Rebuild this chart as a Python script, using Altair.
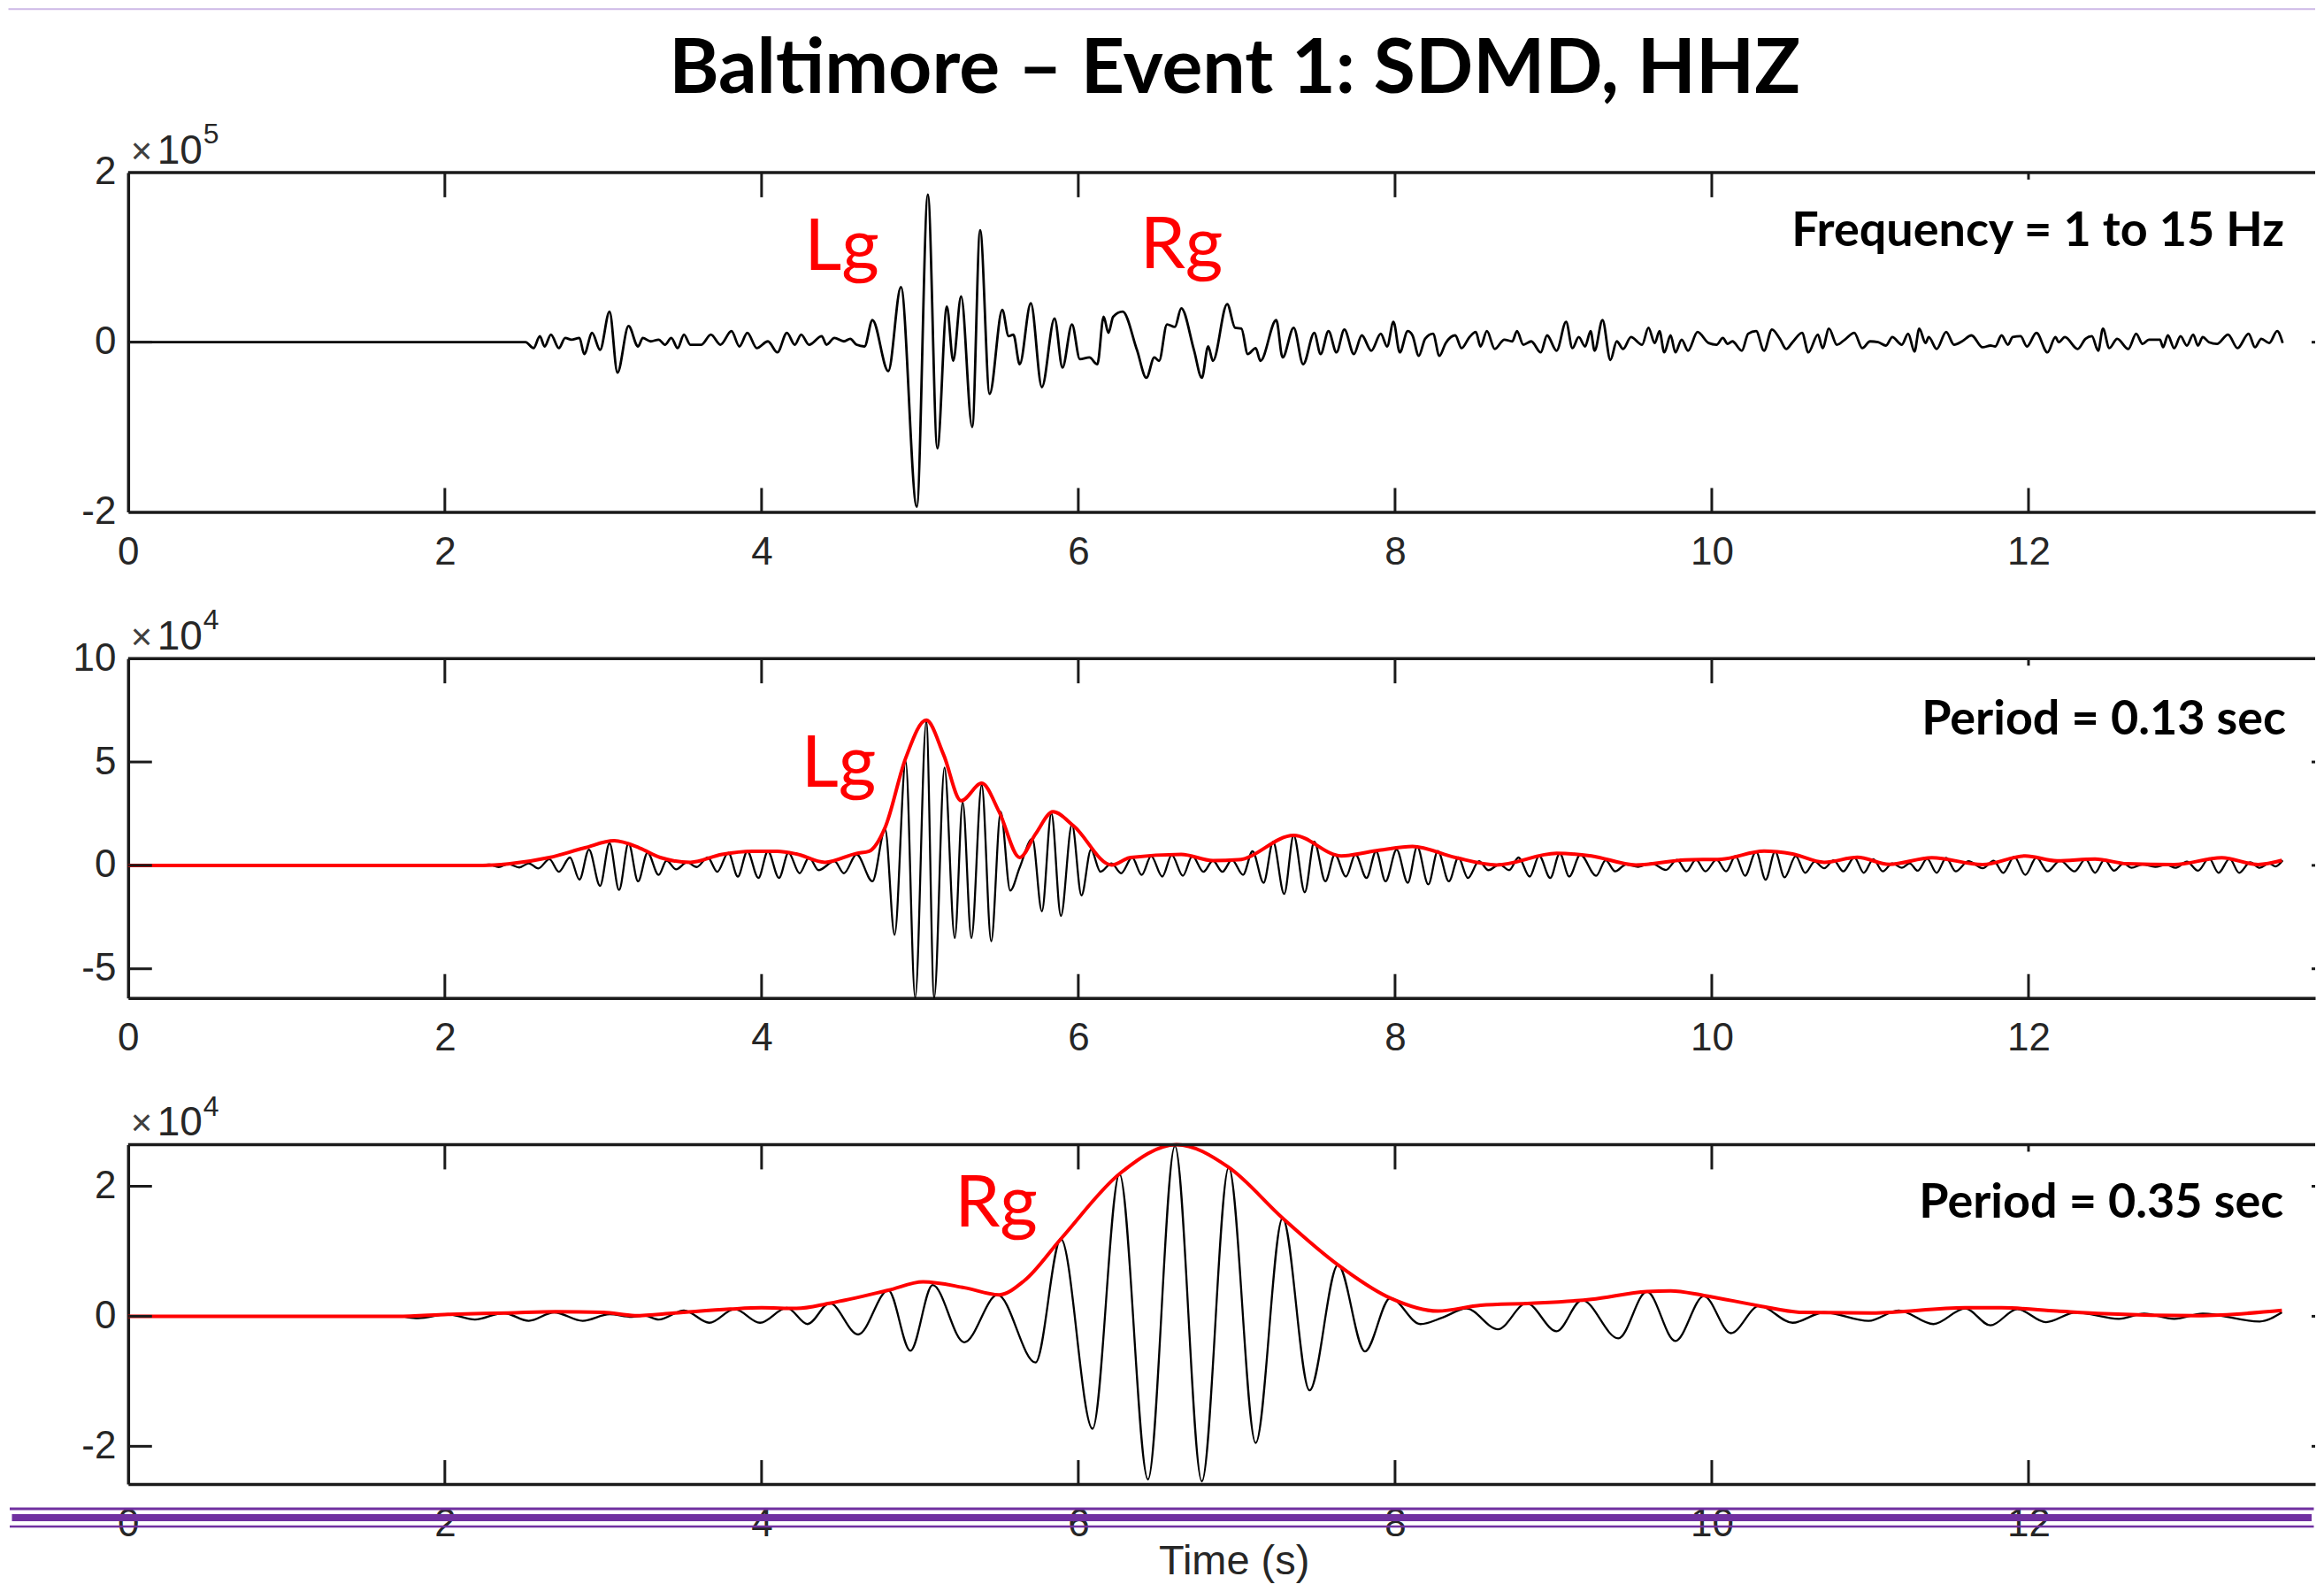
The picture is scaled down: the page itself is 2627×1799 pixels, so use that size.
import altair as alt
import pandas as pd

# ---------------- data ----------------
# time (s), amplitude (x1e5) -- broadband 1-15 Hz trace
P1 = [(0.00,0.00),(2.51,0.00),(2.56,-0.07),(2.60,0.07),(2.63,-0.05),(2.67,0.09),(2.72,-0.07),(2.76,0.05),(2.80,0.03),(2.85,0.05),(2.88,-0.14),(2.93,0.11),(2.98,-0.09),(3.04,0.36),(3.09,-0.36),(3.16,0.19),(3.22,-0.05),(3.25,0.05),(3.30,0.01),(3.35,0.03),(3.39,-0.03),(3.43,0.05),(3.47,-0.07),(3.51,0.09),(3.55,-0.03),(3.62,-0.03),(3.68,0.09),(3.74,-0.03),(3.81,0.13),(3.86,-0.05),(3.91,0.11),(3.97,-0.07),(4.04,0.01),(4.10,-0.12),(4.16,0.11),(4.21,-0.03),(4.25,0.09),(4.30,-0.03),(4.38,0.07),(4.41,-0.03),(4.46,0.05),(4.52,0.01),(4.56,0.04),(4.60,-0.03),(4.65,-0.05),(4.70,0.26),(4.80,-0.34),(4.88,0.65),(4.98,-1.94),(5.05,1.74),(5.11,-1.25),(5.17,0.42),(5.21,-0.22),(5.26,0.54),(5.33,-1.00),(5.38,1.32),(5.44,-0.61),(5.52,0.38),(5.56,0.07),(5.59,0.09),(5.63,-0.26),(5.70,0.46),(5.77,-0.53),(5.85,0.28),(5.90,-0.30),(5.96,0.21),(6.01,-0.20),(6.07,-0.18),(6.12,-0.26),(6.16,0.30),(6.19,0.11),(6.22,0.30),(6.28,0.36),(6.37,-0.09),(6.43,-0.42),(6.48,-0.18),(6.51,-0.22),(6.56,0.21),(6.61,0.18),(6.65,0.40),(6.73,-0.09),(6.78,-0.42),(6.82,-0.05),(6.85,-0.22),(6.94,0.45),(6.99,0.17),(7.03,0.16),(7.07,-0.14),(7.12,-0.07),(7.15,-0.22),(7.25,0.26),(7.29,-0.18),(7.36,0.17),(7.42,-0.26),(7.49,0.11),(7.53,-0.14),(7.58,0.13),(7.63,-0.12),(7.68,0.15),(7.74,-0.14),
      (7.79,0.08),(7.85,-0.10),(7.91,0.10),(7.95,-0.05),(7.99,0.24),(8.03,-0.12),(8.08,0.13),(8.11,0.08),(8.15,-0.16),(8.19,0.04),(8.24,0.10),(8.28,-0.16),(8.32,-0.01),(8.38,0.08),(8.42,-0.07),(8.47,0.06),(8.51,0.12),(8.54,-0.05),(8.58,0.13),(8.63,-0.08),(8.69,0.03),(8.74,0.01),(8.77,0.13),(8.81,-0.03),(8.86,0.01),(8.92,-0.12),(8.96,0.08),(9.02,-0.10),(9.08,0.24),(9.12,-0.07),(9.16,0.06),(9.20,-0.05),(9.235,0.13),(9.26,-0.10),(9.31,0.26),(9.36,-0.21),(9.40,0.01),(9.44,-0.08),(9.49,0.06),(9.56,-0.03),(9.60,0.17),(9.64,-0.01),(9.67,0.13),(9.70,-0.12),(9.74,0.08),(9.77,-0.12),(9.81,0.03),(9.85,-0.10),(9.91,0.12),(9.98,-0.01),(10.03,-0.03),(10.07,0.05),(10.10,-0.02),(10.13,0.01),(10.19,-0.10),(10.23,0.10),(10.28,0.13),(10.33,-0.10),(10.38,0.15),(10.43,0.04),(10.47,-0.08),(10.51,0.00),(10.57,0.11),(10.61,-0.12),(10.67,0.09),(10.70,-0.07),(10.74,0.16),(10.79,-0.03),
      (10.84,0.03),(10.90,0.11),(10.95,-0.07),(11.00,0.01),(11.05,0.00),(11.10,-0.04),(11.14,0.06),(11.20,-0.03),(11.24,0.10),(11.28,-0.11),(11.31,0.16),(11.35,-0.01),(11.37,0.06),(11.42,-0.08),(11.48,0.12),(11.53,-0.03),(11.58,0.01),(11.64,0.08),(11.71,-0.06),(11.76,-0.04),(11.79,-0.05),(11.83,0.08),(11.87,-0.03),(11.90,0.06),(11.95,0.07),(11.99,-0.05),(12.05,0.11),(12.12,-0.12),(12.17,0.06),(12.19,0.00),(12.23,0.06),(12.31,-0.08),(12.36,0.04),(12.40,0.07),(12.44,-0.10),(12.47,0.16),(12.51,-0.07),(12.56,0.04),(12.63,-0.08),(12.68,0.10),(12.72,-0.02),(12.76,0.03),(12.83,0.03),(12.85,-0.06),(12.88,0.08),(12.92,-0.07),(12.96,0.07),(13.00,-0.04),(13.04,0.09),(13.07,-0.04),(13.10,0.06),(13.14,0.00),(13.19,-0.02),(13.26,0.09),(13.32,-0.07),(13.39,0.10),(13.43,-0.06),(13.47,0.04),(13.52,-0.01),(13.57,0.13),(13.605,-0.01)]

# time (s), amplitude (x1e4) -- 0.13 s period filtered trace
P2 = [(0.00,0.00),(2.20,0.00),(2.28,0.04),(2.34,-0.08),(2.40,0.07),(2.47,-0.10),(2.53,0.10),(2.59,-0.15),(2.66,0.30),(2.72,-0.31),(2.79,0.38),(2.85,-0.69),(2.91,0.76),(2.98,-0.99),(3.04,1.07),(3.10,-1.19),(3.16,1.07),(3.22,-0.77),(3.28,0.61),(3.35,-0.46),(3.40,0.23),(3.46,-0.19),(3.53,0.15),(3.59,-0.08),(3.66,0.38),(3.72,-0.31),(3.79,0.61),(3.85,-0.54),(3.91,0.68),(3.98,-0.61),(4.04,0.68),(4.11,-0.61),(4.17,0.61),
      (4.24,-0.38),(4.30,0.38),(4.36,-0.23),(4.46,0.20),(4.52,-0.38),(4.60,0.53),(4.70,-0.77),(4.78,1.75),(4.84,-3.36),(4.91,5.03),(4.97,-6.40),(5.04,6.94),(5.09,-6.40),(5.155,4.73),(5.22,-3.51),(5.27,3.05),(5.325,-3.51),(5.39,3.89),(5.45,-3.67),(5.51,2.59),(5.57,-1.22),(5.63,-0.10),(5.71,1.29),(5.77,-2.22),(5.83,2.52),(5.89,-2.44),(5.96,1.98),(6.02,-1.45),(6.08,0.76),(6.14,-0.31),(6.21,0.10),(6.27,-0.38),(6.34,0.38),(6.40,-0.46),(6.46,0.45),(6.53,-0.54),(6.59,0.50),(6.66,-0.50),(6.72,0.45),(6.79,-0.31),(6.85,0.23),(6.91,-0.31),(6.97,0.27),(7.04,-0.46),(7.10,0.68),(7.17,-0.84),(7.23,1.14),(7.30,-1.38),(7.36,1.45),(7.43,-1.30),(7.49,1.14),(7.56,-0.77),(7.62,0.53),(7.69,-0.54),(7.75,0.53),(7.82,-0.61),(7.88,0.68),(7.94,-0.77),(8.01,0.76),(8.08,-0.84),(8.14,0.90),(8.21,-0.92),(8.27,0.70),(8.34,-0.77),(8.40,0.38),(8.46,-0.61),(8.53,0.20),(8.59,-0.23),(8.66,0.05),(8.72,-0.23),(8.78,0.38),(8.85,-0.54),(8.91,0.46),(8.98,-0.61),(9.04,0.58),(9.10,-0.54),(9.17,0.52),
      (9.27,-0.50),(9.33,0.25),(9.39,-0.29),(9.46,0.05),(9.535,-0.07),(9.62,0.10),(9.71,-0.22),(9.78,0.27),(9.84,-0.29),(9.90,0.28),(9.96,-0.29),(10.03,0.28),(10.09,-0.29),(10.15,0.45),(10.21,-0.50),(10.28,0.66),(10.34,-0.69),(10.40,0.66),(10.46,-0.58),(10.53,0.45),(10.59,-0.36),(10.65,0.18),(10.71,-0.14),(10.77,0.25),(10.83,-0.29),(10.90,0.38),(10.96,-0.36),(11.02,0.30),(11.08,-0.29),(11.14,0.10),(11.20,-0.12),(11.25,0.10),(11.30,-0.26),(11.36,0.32),(11.42,-0.36),(11.48,0.36),(11.54,-0.29),(11.62,0.20),(11.71,-0.14),(11.78,0.22),(11.84,-0.36),(11.91,0.42),(11.98,-0.46),(12.05,0.38),(12.12,-0.29),(12.20,0.24),(12.29,-0.29),(12.36,0.30),(12.42,-0.36),(12.48,0.28),(12.54,-0.26),(12.60,0.10),(12.65,-0.12),(12.72,0.05),(12.80,-0.07),(12.87,0.03),(12.93,-0.12),(13.00,0.18),(13.07,-0.26),(13.14,0.34),(13.20,-0.36),(13.27,0.32),(13.33,-0.36),(13.40,0.15),(13.46,-0.12),(13.52,0.10),(13.56,-0.05),(13.605,0.24)]

# envelope of the 0.13 s trace (x1e4)
E2 = [(0.00,0.00),(2.24,0.00),(2.40,0.07),(2.66,0.38),(2.88,0.84),(3.07,1.19),(3.23,0.84),(3.36,0.38),(3.55,0.15),(3.75,0.53),(3.94,0.68),(4.10,0.68),(4.22,0.55),(4.40,0.15),(4.60,0.58),(4.68,0.69),(4.78,1.83),(4.91,5.19),(5.04,7.02),(5.15,5.34),(5.26,3.13),(5.39,3.97),(5.50,2.59),(5.63,0.38),(5.73,1.52),(5.84,2.59),(5.97,1.91),(6.21,0.02),(6.33,0.38),(6.65,0.53),(6.85,0.23),(7.01,0.27),(7.36,1.45),(7.66,0.46),(7.90,0.73),(8.11,0.92),(8.38,0.38),(8.64,0.02),(9.02,0.58),(9.24,0.46),(9.52,0.02),(9.83,0.26),(10.06,0.30),(10.33,0.69),(10.51,0.55),(10.71,0.15),(10.92,0.39),(11.12,0.05),(11.39,0.37),(11.71,0.04),(11.98,0.46),(12.18,0.22),(12.42,0.31),(12.62,0.08),(12.92,0.04),(13.22,0.37),(13.45,0.04),(13.60,0.24)]

# time (s), amplitude (x1e4) -- 0.35 s period filtered trace
P3 = [(0.00,0.00),(1.70,0.00),(1.83,-0.03),(2.02,0.03),(2.19,-0.05),(2.37,0.05),(2.53,-0.07),(2.69,0.06),(2.87,-0.07),(3.04,0.03),(3.18,-0.01),(3.26,0.01),(3.35,-0.05),(3.51,0.09),(3.67,-0.10),(3.83,0.11),(3.99,-0.10),(4.16,0.13),(4.29,-0.12),(4.43,0.20),(4.61,-0.28),(4.80,0.40),(4.94,-0.53),(5.08,0.48),(5.28,-0.40),(5.49,0.33),(5.73,-0.71),(5.89,1.19),(6.09,-1.73),(6.26,2.19),(6.44,-2.51),(6.61,2.62),(6.78,-2.54),(6.95,2.29),(7.12,-1.95),(7.29,1.51),(7.46,-1.14),(7.64,0.79),(7.81,-0.54),(7.97,0.28),(8.16,-0.12),(8.30,-0.02),(8.45,0.12),(8.65,-0.20),(8.83,0.20),(9.02,-0.23),(9.18,0.25),(9.41,-0.34),(9.59,0.38),(9.77,-0.38),(9.95,0.31),(10.12,-0.26),(10.30,0.16),(10.51,-0.10),(10.71,0.06),(10.99,-0.07),(11.18,0.09),(11.40,-0.12),(11.60,0.12),(11.76,-0.14),(11.93,0.11),(12.11,-0.09),(12.30,0.06),(12.57,-0.04),(12.73,0.04),(12.92,-0.04),(13.10,0.04),(13.46,-0.08),(13.60,0.06)]

# envelope of the 0.35 s trace (x1e4)
E3 = [(0.00,0.00),(1.70,0.00),(2.02,0.03),(2.40,0.05),(2.70,0.07),(3.00,0.06),(3.20,0.01),(3.45,0.05),(3.80,0.11),(4.00,0.13),(4.22,0.12),(4.43,0.20),(4.80,0.40),(5.02,0.53),(5.28,0.44),(5.50,0.33),(5.66,0.55),(5.89,1.19),(6.26,2.19),(6.62,2.64),(6.95,2.29),(7.29,1.51),(7.64,0.79),(7.97,0.28),(8.27,0.08),(8.54,0.17),(8.86,0.20),(9.24,0.26),(9.59,0.38),(9.74,0.39),(9.95,0.32),(10.30,0.16),(10.57,0.06),(11.01,0.05),(11.60,0.13),(11.83,0.13),(12.18,0.08),(12.48,0.04),(13.07,0.01),(13.60,0.09)]

X_TICKS = [0, 2, 4, 6, 8, 10, 12]
X_TICKS_IN = [2, 4, 6, 8, 10]
X_TICK_STUB = [12]
Y1_TICKS = [-2, 0, 2]
Y2_TICKS = [-5, 0, 5, 10]
Y3_TICKS = [-2, 0, 2]
Y1_DOM = [-2.0, 2.0]
Y2_DOM = [-6.41, 10.0]
Y3_DOM = [-2.58, 2.64]
X_DOM = [0, 13.81]

TITLE = "Baltimore \u2013 Event 1: SDMD, HHZ"
RED1 = [(4.27, 0.855, "Lg"), (6.39, 0.876, "Rg")]
RED2 = [(4.25, 3.81, "Lg")]
RED3 = [(5.22, 1.384, "Rg")]
NOTE1 = [(13.615, 1.136, "Frequency = 1 to 15 Hz")]
NOTE2 = [(13.626, 6.33, "Period = 0.13 sec")]
NOTE3 = [(13.61, 1.52, "Period = 0.35 sec")]
EXP = ["5", "4", "4"]

# ---------------- styling ----------------
W = 2475.5
H = 384
AXF = "Liberation Sans"
TXF = "Lato"
INK = "#1a1a1a"
LAB = "#262626"
ONE = pd.DataFrame({"a": [0]})

X_AXIS = alt.Axis(values=X_TICKS, labelExpr="'' + datum.value", labelFont=AXF,
                  labelFontSize=44, labelColor=LAB, labelPadding=24, ticks=False,
                  tickSize=0, domainColor=INK, domainWidth=3.5, grid=False,
                  title=None, labelFlush=False, labelOverlap=False)


def xenc():
    return alt.X("t:Q", scale=alt.Scale(domain=X_DOM, nice=False, zero=False), axis=X_AXIS)


def yenc(dom, ticks):
    ax = alt.Axis(values=ticks, labelExpr="'' + datum.value", labelFont=AXF,
                  labelFontSize=44, labelColor=LAB, labelPadding=14, ticks=False,
                  tickSize=0, domainColor=INK, domainWidth=3.5, grid=False,
                  title=None, labelFlush=False, labelOverlap=False)
    return alt.Y("v:Q", scale=alt.Scale(domain=dom, nice=False, zero=False), axis=ax)


def panel(trace, env, dom, yticks, red, note, exp, lw, extra):
    df = pd.DataFrame(trace, columns=["t", "v"])
    layers = []
    layers.append(alt.Chart(df).mark_line(color="black", strokeWidth=lw,
                                          interpolate="monotone").encode(
        x=xenc(), y=yenc(dom, yticks)))
    if env is not None:
        de = pd.DataFrame(env, columns=["t", "v"])
        layers.append(alt.Chart(de).mark_line(color="#ff0000", strokeWidth=4,
                                              interpolate="monotone").encode(
            x=xenc(), y=yenc(dom, yticks)))
    # frame top
    layers.append(alt.Chart(ONE).mark_rule(color=INK, strokeWidth=3.5).encode(
        x=alt.value(0), x2=alt.value(W), y=alt.value(0)))
    # inward ticks
    dxt = pd.DataFrame({"t": X_TICKS_IN + X_TICK_STUB})
    dxin = pd.DataFrame({"t": X_TICKS_IN})
    dxs = pd.DataFrame({"t": X_TICK_STUB})
    layers.append(alt.Chart(dxt).mark_rule(color=INK, strokeWidth=3).encode(
        x=xenc(), y=alt.value(H - 27), y2=alt.value(H)))
    layers.append(alt.Chart(dxin).mark_rule(color=INK, strokeWidth=3).encode(
        x=xenc(), y=alt.value(0), y2=alt.value(28)))
    layers.append(alt.Chart(dxs).mark_rule(color=INK, strokeWidth=3).encode(
        x=xenc(), y=alt.value(0), y2=alt.value(8)))
    inner = [v for v in yticks if dom[0] < v < dom[1]]
    dyt = pd.DataFrame({"v": inner})
    layers.append(alt.Chart(dyt).mark_rule(color=INK, strokeWidth=3).encode(
        y=yenc(dom, yticks), x=alt.value(0), x2=alt.value(27)))
    # stubs of the right-hand ticks (the right frame lies beyond the picture)
    layers.append(alt.Chart(dyt).mark_rule(color=INK, strokeWidth=3).encode(
        y=yenc(dom, yticks), x=alt.value(W - 4), x2=alt.value(W)))
    # exponent label
    layers.append(alt.Chart(ONE).mark_text(text="\u00d7", font=AXF, fontSize=42,
                                           color="#404040", align="left",
                                           baseline="alphabetic").encode(
        x=alt.value(3), y=alt.value(-10)))
    layers.append(alt.Chart(ONE).mark_text(text="10", font=AXF, fontSize=46,
                                           color=LAB, align="left",
                                           baseline="alphabetic").encode(
        x=alt.value(33), y=alt.value(-10)))
    layers.append(alt.Chart(ONE).mark_text(text=exp, font=AXF, fontSize=32,
                                           color=LAB, align="left",
                                           baseline="alphabetic").encode(
        x=alt.value(85), y=alt.value(-33)))
    # red phase labels
    dr = pd.DataFrame(red, columns=["t", "v", "s"])
    layers.append(alt.Chart(dr).mark_text(font=TXF, fontSize=82, color="#ff0000",
                                          align="left", baseline="alphabetic").encode(
        x=xenc(), y=yenc(dom, yticks), text="s:N"))
    dn = pd.DataFrame(note, columns=["t", "v", "s"])
    layers.append(alt.Chart(dn).mark_text(font=TXF, fontSize=54, fontWeight="bold",
                                          color="black", align="right",
                                          baseline="alphabetic").encode(
        x=xenc(), y=yenc(dom, yticks), text="s:N"))
    layers.extend(extra)
    return alt.layer(*layers).properties(width=W, height=H)


top_extra = [
    alt.Chart(ONE).mark_rule(color="#cdb8e6", strokeWidth=2).encode(
        x=alt.value(-135.5), x2=alt.value(W), y=alt.value(-185)),
    alt.Chart(ONE).mark_text(text=TITLE, font=TXF, fontSize=86, fontWeight="bold",
                             color="black", align="center",
                             baseline="alphabetic").encode(
        x=alt.value(1252.5), y=alt.value(-90)),
]

bottom_extra = [
    alt.Chart(ONE).mark_text(text="Time (s)", font=AXF, fontSize=47, color=LAB,
                             align="center", baseline="alphabetic").encode(
        x=alt.value(1252), y=alt.value(486)),
    alt.Chart(ONE).mark_rule(color="#7030a0", strokeWidth=3).encode(
        x=alt.value(-134), x2=alt.value(W - 1.5), y=alt.value(412.2)),
    alt.Chart(ONE).mark_rule(color="#7030a0", strokeWidth=8).encode(
        x=alt.value(-131.5), x2=alt.value(W - 4), y=alt.value(422.1)),
    alt.Chart(ONE).mark_rule(color="#7030a0", strokeWidth=2.5).encode(
        x=alt.value(-134), x2=alt.value(W - 1.5), y=alt.value(432.0)),
]

p1 = panel(P1, None, Y1_DOM, Y1_TICKS, RED1, NOTE1, EXP[0], 2.8, top_extra)
p2 = panel(P2, E2, Y2_DOM, Y2_TICKS, RED2, NOTE2, EXP[1], 2.3, [])
p3 = panel(P3, E3, Y3_DOM, Y3_TICKS, RED3, NOTE3, EXP[2], 2.3, bottom_extra)

chart = alt.vconcat(p1, p2, p3, spacing=166, bounds="flush").properties(
    padding={"left": 0, "top": 0, "right": 0, "bottom": 0},
    background="white",
).configure_view(stroke=None)

chart.save("out.html", embed_options={"renderer": "svg", "actions": False})
